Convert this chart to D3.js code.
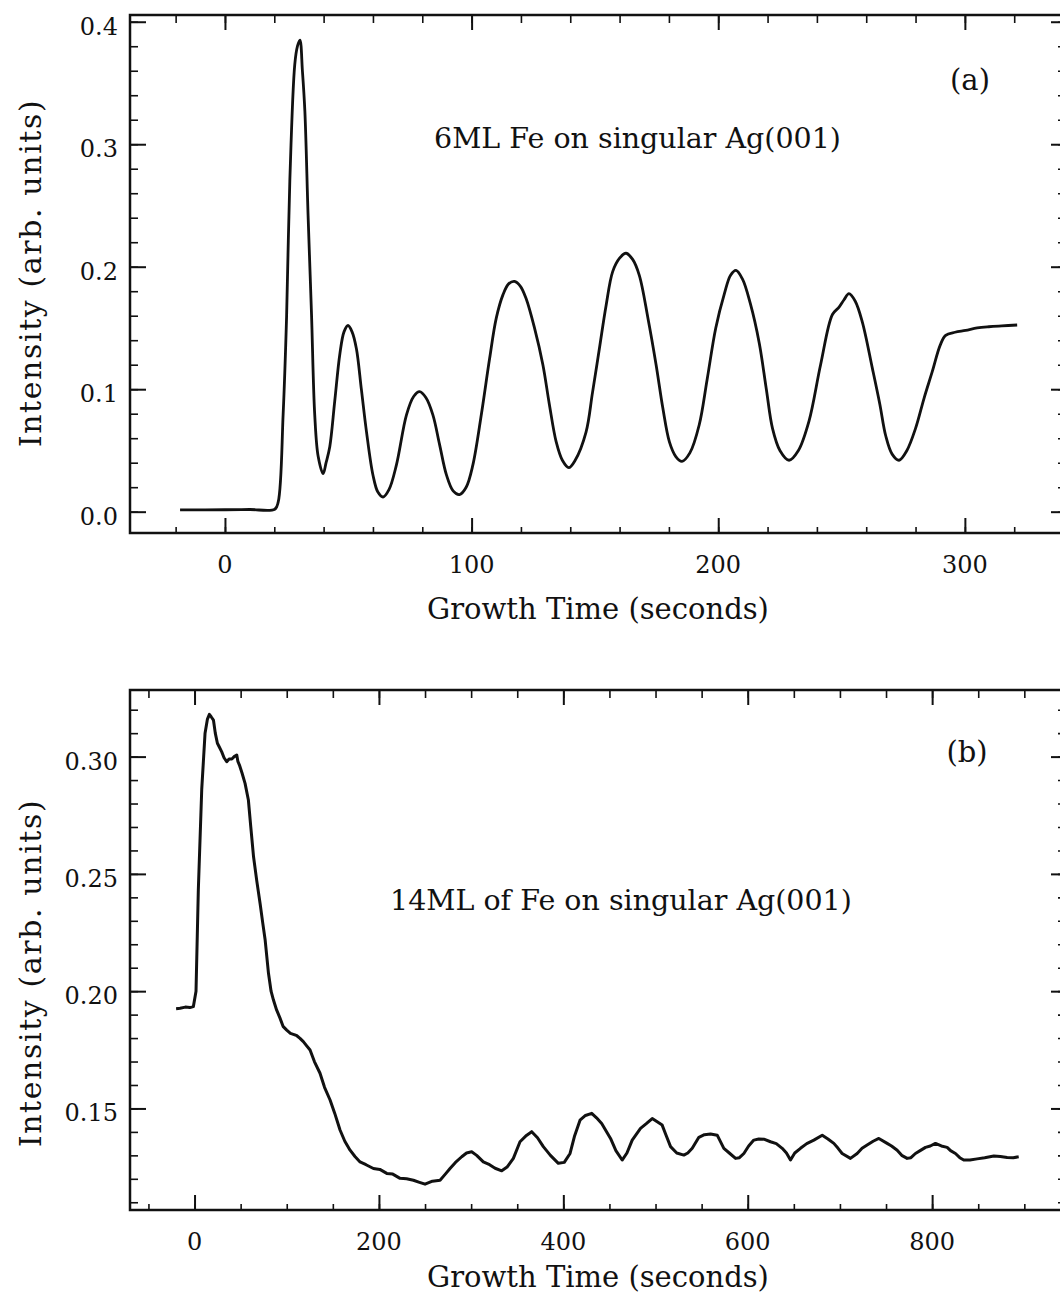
<!DOCTYPE html>
<html>
<head>
<meta charset="utf-8">
<script src="https://cdn.jsdelivr.net/npm/d3@7"></script>
<style>
  body { margin: 0; background: #fff; }
  text { font-family: "DejaVu Serif", serif; fill: #111; }
</style>
</head>
<body>
<svg id="fig" width="1060" height="1300"></svg>
<script>
// ---- Panel (a): 6 ML Fe on singular Ag(001) ----
const timeA = [-18.2, 0, 10, 20.2, 21.6, 23.6, 25, 26.3, 28.3, 29.4, 30.4, 31.4, 32.4, 33.7, 35.1, 36.4, 37.8, 39.8, 41, 42.5,
  44.5, 46.6, 48.3, 49.9, 51.5, 53.3, 55.3, 57.4, 60, 62, 64.1, 66.5, 69.5, 73.6, 76.5, 78.9, 81.5, 84.3, 87, 89.8,
  92.5, 95.1, 97.8, 100.5, 104, 107.3, 110, 112.7, 115, 117.4, 119.8, 122.1, 125.5, 128.9, 131.5, 134.3, 136.8, 139.4, 142, 146.4,
  149, 151.8, 154.5, 157.2, 160, 162.6, 165.3, 168, 171.5, 174.8, 177.5, 180.2, 182.8, 185.3, 188.5, 192.3, 195.5, 199, 202.5, 205,
  207.2, 209.8, 213, 216.6, 219.5, 222, 225, 228.7, 232.5, 236.8, 241.5, 246.3, 249, 251, 253, 255.5, 258.4, 262.5, 265.5, 267.9,
  270.5, 273.3, 276.5, 280, 283.5, 286.8, 290, 292.2, 296, 300.3, 305, 309.7, 315, 321.2];
const intensityA = [0.0014, 0.0016, 0.0018, 0.002, 0.008, 0.08, 0.16, 0.27, 0.365, 0.38, 0.385, 0.36, 0.327, 0.242, 0.161, 0.079, 0.045, 0.031, 0.04, 0.053,
  0.09, 0.129, 0.147, 0.152, 0.147, 0.133, 0.1, 0.065, 0.03, 0.016, 0.012, 0.018, 0.038, 0.079, 0.094, 0.098, 0.093, 0.079, 0.055, 0.03,
  0.017, 0.014, 0.02, 0.038, 0.08, 0.125, 0.158, 0.177, 0.186, 0.188, 0.184, 0.174, 0.15, 0.12, 0.088, 0.057, 0.042, 0.036, 0.042, 0.065,
  0.097, 0.133, 0.168, 0.196, 0.207, 0.211, 0.206, 0.193, 0.158, 0.12, 0.085, 0.057, 0.045, 0.041, 0.048, 0.071, 0.108, 0.15, 0.178, 0.193,
  0.197, 0.19, 0.17, 0.138, 0.1, 0.068, 0.05, 0.042, 0.05, 0.074, 0.12, 0.161, 0.167, 0.173, 0.178, 0.172, 0.155, 0.117, 0.088, 0.062,
  0.047, 0.042, 0.05, 0.068, 0.093, 0.1145, 0.136, 0.144, 0.1465, 0.148, 0.15, 0.151, 0.1517, 0.1524];
const xTicksA = [0, 100, 200, 300];
const yTicksA = [0.0, 0.1, 0.2, 0.3, 0.4];

// ---- Panel (b): 14 ML Fe on singular Ag(001) ----
const timeB = [-20, -15.7, -10, -5, -1.3, 1.6, 4.1, 7.8, 11.4, 14, 16.1, 18, 20.5, 22.5, 24.8, 27, 29.5, 32, 34.9, 37.5,
  40.5, 43, 45.8, 47, 48.7, 51.5, 54.8, 58.4, 61, 64, 67.5, 71.1, 74, 76.6, 80.2, 83, 85.6, 89, 92.7, 96,
  100, 104, 108, 111, 114.4, 118, 121, 125.3, 130, 136.1, 141, 147, 152, 157.8, 163, 168.7, 174, 179.5, 186, 194,
  201, 208.5, 215, 222.9, 230, 237.4, 244, 250, 258, 266.3, 272, 277.1, 283, 289.8, 295, 300.6, 306, 313.2, 320, 326,
  333.2, 339, 345.8, 353, 360, 365.7, 372, 378.3, 386, 394.6, 401, 407.3, 412, 418.1, 424, 430.8, 436, 441.6, 451.2, 457,
  463.8, 469, 474.7, 483.7, 490, 496.4, 501, 507.2, 511, 516.3, 523, 530.7, 535, 539.8, 547, 553, 559.7, 566.9, 574.1, 580,
  586.8, 591, 595.8, 601, 606.6, 612, 617.5, 624.7, 631, 637.4, 642, 646.4, 651, 657.2, 664, 671.7, 680.8, 687, 693.4, 698,
  702.4, 711.4, 718.7, 724, 729.5, 736, 742.2, 751.2, 756, 762.1, 767, 772.9, 777, 781.9, 787, 792.8, 798, 803.6, 810, 816.3,
  820, 825.3, 830, 834.3, 841, 848.8, 857, 866.9, 874, 881.4, 888, 893.9];
const intensityB = [0.1925, 0.1927, 0.1932, 0.193, 0.1934, 0.2, 0.243, 0.286, 0.31, 0.316, 0.318, 0.317, 0.3156, 0.31, 0.3057, 0.304, 0.302, 0.2995, 0.2978, 0.299,
  0.299, 0.3, 0.3007, 0.298, 0.2964, 0.293, 0.2886, 0.2815, 0.27, 0.2573, 0.247, 0.2374, 0.229, 0.2218, 0.2076, 0.2, 0.1962, 0.192, 0.1885, 0.185,
  0.1834, 0.182, 0.1815, 0.181, 0.1799, 0.1785, 0.177, 0.1749, 0.17, 0.165, 0.159, 0.1536, 0.148, 0.1408, 0.136, 0.1322, 0.1295, 0.1272, 0.126, 0.1244,
  0.124, 0.1223, 0.122, 0.1202, 0.12, 0.1194, 0.1185, 0.1177, 0.119, 0.1194, 0.122, 0.1244, 0.127, 0.1294, 0.131, 0.1315, 0.13, 0.1272, 0.126, 0.1245,
  0.1234, 0.125, 0.1287, 0.1358, 0.1385, 0.1401, 0.1375, 0.1337, 0.13, 0.1266, 0.127, 0.1308, 0.138, 0.145, 0.147, 0.1479, 0.146, 0.1436, 0.1372, 0.132,
  0.128, 0.131, 0.1365, 0.1415, 0.1435, 0.1457, 0.1445, 0.1429, 0.139, 0.1337, 0.131, 0.1301, 0.131, 0.133, 0.1377, 0.1388, 0.1391, 0.1386, 0.133, 0.131,
  0.1287, 0.129, 0.1308, 0.134, 0.1365, 0.137, 0.1369, 0.1358, 0.135, 0.133, 0.131, 0.128, 0.131, 0.133, 0.135, 0.1365, 0.1386, 0.137, 0.1351, 0.133,
  0.1308, 0.1287, 0.1308, 0.133, 0.1344, 0.136, 0.1372, 0.1351, 0.134, 0.1322, 0.13, 0.1287, 0.129, 0.1308, 0.132, 0.1334, 0.134, 0.1351, 0.134, 0.1334,
  0.132, 0.1308, 0.129, 0.128, 0.128, 0.1285, 0.129, 0.1297, 0.1295, 0.1291, 0.129, 0.1294];
const xTicksB = [0, 200, 400, 600, 800];
const yTicksB = [0.15, 0.20, 0.25, 0.30];

const svg = d3.select("#fig");
const frameLeft = 130, frameRight = 1066;

function drawPanel(p) {
  const g = svg.append("g");
  const x = d3.scaleLinear().domain(p.xDomain).range([frameLeft, frameRight]);
  const y = d3.scaleLinear().domain(p.yDomain).range([p.bottom, p.top]);

  // tick marks on all four sides, pointing inward
  const tickSets = [
    { axis: d3.axisBottom(x), at: `translate(0,${p.bottom})`, major: p.xTicks, minor: p.xMinor, big: -15, small: -6 },
    { axis: d3.axisTop(x), at: `translate(0,${p.top})`, major: p.xTicks, minor: p.xMinor, big: -15, small: -8 },
    { axis: d3.axisLeft(y), at: `translate(${frameLeft},0)`, major: p.yTicks, minor: p.yMinor, big: -16, small: -8 },
    { axis: d3.axisRight(y), at: `translate(${frameRight},0)`, major: p.yTicks, minor: p.yMinor, big: -15, small: -8 }
  ];
  tickSets.forEach(s => {
    [[s.minor, s.small, 1.6], [s.major, s.big, 2]].forEach(([vals, size, w]) => {
      const ax = g.append("g").attr("transform", s.at)
        .call(s.axis.tickValues(vals).tickSize(size).tickSizeOuter(0).tickFormat(""));
      ax.select(".domain").remove();
      ax.selectAll("line").attr("stroke", "#111").attr("stroke-width", w);
    });
  });

  // frame
  g.append("rect")
    .attr("x", frameLeft).attr("y", p.top)
    .attr("width", frameRight - frameLeft).attr("height", p.bottom - p.top)
    .attr("fill", "none").attr("stroke", "#111").attr("stroke-width", 2.5);

  // tick labels
  g.selectAll(".xl").data(p.xTicks).join("text")
    .attr("x", d => x(d)).attr("y", p.bottom + 40)
    .attr("text-anchor", "middle").attr("font-size", 24)
    .text(d => d3.format("d")(d));
  g.selectAll(".yl").data(p.yTicks).join("text")
    .attr("x", frameLeft - 12).attr("y", d => y(d) + 13)
    .attr("text-anchor", "end").attr("font-size", 24)
    .text(d => d3.format(p.yFormat)(d));

  // axis titles
  g.append("text")
    .attr("x", 598).attr("y", p.xTitleY)
    .attr("text-anchor", "middle").attr("font-size", 29)
    .text("Growth Time (seconds)");
  g.append("text")
    .attr("transform", `translate(41,${p.yTitleCenter}) rotate(-90)`)
    .attr("text-anchor", "middle").attr("font-size", 30)
    .attr("letter-spacing", 1.6)
    .text("Intensity (arb. units)");

  // annotations
  g.append("text").attr("x", p.tagX).attr("y", p.tagY)
    .attr("text-anchor", "middle").attr("font-size", 29).text(p.tag);
  g.append("text").attr("x", p.noteX).attr("y", p.noteY)
    .attr("font-size", 28.5).text(p.note);

  // data trace
  const pts = p.t.map((t, i) => [t, p.v[i]]);
  g.append("path")
    .datum(pts)
    .attr("fill", "none").attr("stroke", "#111")
    .attr("stroke-width", p.lineWidth)
    .attr("stroke-linejoin", "round")
    .attr("d", d3.line().x(d => x(d[0])).y(d => y(d[1])).curve(p.curve));
}

drawPanel({
  t: timeA, v: intensityA,
  xDomain: [-38.5, 341], yDomain: [-0.0174, 0.4055], top: 15, bottom: 533,
  xTicks: xTicksA, yTicks: yTicksA,
  xMinor: d3.range(-20, 341, 20), yMinor: d3.range(0, 0.401, 0.02),
  yFormat: ".1f", yTitleCenter: 273, xTitleY: 619,
  tag: "(a)", tagX: 970, tagY: 90,
  note: "6ML Fe on singular Ag(001)", noteX: 434, noteY: 148,
  lineWidth: 2.8, curve: d3.curveCatmullRom.alpha(0.5)
});

drawPanel({
  t: timeB, v: intensityB,
  xDomain: [-70, 945.2], yDomain: [0.1067, 0.3284], top: 690, bottom: 1210,
  xTicks: xTicksB, yTicks: yTicksB,
  xMinor: d3.range(-50, 946, 50), yMinor: d3.range(0.11, 0.3285, 0.01),
  yFormat: ".2f", yTitleCenter: 973, xTitleY: 1287,
  tag: "(b)", tagX: 967, tagY: 762,
  note: "14ML of Fe on singular Ag(001)", noteX: 390, noteY: 910,
  lineWidth: 3, curve: d3.curveLinear
});
</script>
</body>
</html>
